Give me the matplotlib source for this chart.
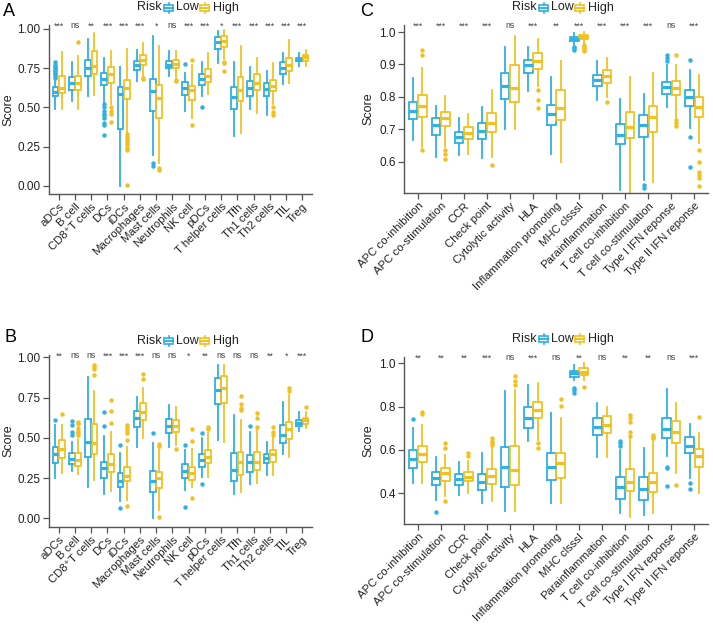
import matplotlib
matplotlib.use("Agg")
import matplotlib.pyplot as plt
from matplotlib.patches import Rectangle

plt.rcParams['font.family'] = ['Liberation Sans', 'DejaVu Sans']

BLUE = '#2fb1e6'
YELLOW = '#f3c11f'

# ---- panel A : immune cells (set 1) ----
a_cells = ['aDCs', 'B cell', 'CD8⁺T cells', 'DCs', 'iDCs', 'Macrophages', 'Mast cells',
           'Neutrophils', 'NK cell', 'pDCs', 'T helper cells', 'Tfh', 'Th1 cells',
           'Th2 cells', 'TIL', 'Treg']
a_sig = ['***', 'ns', '**', '***', '***', '***', '*', 'ns', '***', '***', '*', '***',
         '***', '***', '***', '***']
# (whisker low, q1, median, q3, whisker high)
a_low = [(0.49, 0.57, 0.60, 0.63, 0.67), (0.54, 0.61, 0.655, 0.695, 0.79),
         (0.57, 0.70, 0.75, 0.80, 0.935), (0.53, 0.64, 0.68, 0.72, 0.815),
         (0.00, 0.36, 0.585, 0.63, 0.755), (0.67, 0.74, 0.768, 0.794, 0.864),
         (0.20, 0.48, 0.605, 0.68, 0.957), (0.70, 0.75, 0.772, 0.794, 0.857),
         (0.48, 0.58, 0.623, 0.66, 0.72), (0.57, 0.645, 0.68, 0.71, 0.79),
         (0.783, 0.872, 0.915, 0.95, 0.985), (0.32, 0.49, 0.566, 0.63, 0.79),
         (0.49, 0.575, 0.623, 0.666, 0.755), (0.453, 0.57, 0.617, 0.655, 0.73),
         (0.65, 0.715, 0.75, 0.787, 0.847), (0.762, 0.794, 0.804, 0.815, 0.845)]
a_high = [(0.49, 0.595, 0.623, 0.70, 0.85), (0.49, 0.613, 0.655, 0.70, 0.825),
          (0.58, 0.715, 0.766, 0.857, 0.975), (0.52, 0.655, 0.715, 0.755, 0.857),
          (0.34, 0.553, 0.623, 0.677, 0.875), (0.70, 0.768, 0.804, 0.836, 0.91),
          (0.145, 0.432, 0.56, 0.645, 0.894), (0.69, 0.75, 0.777, 0.804, 0.857),
          (0.435, 0.549, 0.61, 0.638, 0.77), (0.587, 0.66, 0.70, 0.745, 0.847),
          (0.81, 0.885, 0.921, 0.953, 0.99), (0.34, 0.538, 0.61, 0.695, 0.89),
          (0.464, 0.61, 0.655, 0.71, 0.815), (0.52, 0.602, 0.638, 0.677, 0.78),
          (0.655, 0.734, 0.768, 0.815, 0.93), (0.766, 0.798, 0.82, 0.836, 0.868)]
a_low_out = [[0.69, 0.70, 0.71, 0.72, 0.73, 0.74, 0.75, 0.76, 0.77, 0.79], [], [],
             [0.52, 0.50, 0.48, 0.46, 0.45, 0.43, 0.40, 0.39, 0.325], [], [],
             [0.145, 0.125], [], [0.775], [0.50], [], [], [], [], [], []]
a_high_out = [[], [0.915], [], [0.50, 0.48, 0.46, 0.41],
              [0.33, 0.31, 0.30, 0.29, 0.28, 0.27, 0.26, 0.24, 0.23, 0.005],
              [0.69, 0.68], [0.113, 0.10], [0.677, 0.666], [0.39, 0.80], [],
              [0.79, 0.78, 0.73], [], [], [0.50, 0.47, 0.455], [], []]

# ---- panel B : immune cells (set 2) ----
b_cells = a_cells
b_sig = ['**', 'ns', 'ns', '***', '***', '***', 'ns', 'ns', '*', '**', 'ns', 'ns',
         'ns', '**', '*', '***']
b_low = [(0.253, 0.342, 0.40, 0.445, 0.58), (0.294, 0.337, 0.369, 0.408, 0.476),
         (0.197, 0.383, 0.472, 0.617, 0.876), (0.149, 0.248, 0.31, 0.352, 0.51),
         (0.108, 0.197, 0.232, 0.28, 0.404), (0.44, 0.57, 0.62, 0.667, 0.756),
         (0.0, 0.166, 0.232, 0.294, 0.47), (0.445, 0.528, 0.574, 0.617, 0.704),
         (0.176, 0.253, 0.294, 0.335, 0.424), (0.259, 0.32, 0.362, 0.398, 0.497),
         (0.487, 0.708, 0.797, 0.87, 0.952), (0.149, 0.232, 0.30, 0.404, 0.642),
         (0.21, 0.29, 0.348, 0.393, 0.534), (0.269, 0.342, 0.373, 0.398, 0.472),
         (0.398, 0.466, 0.518, 0.58, 0.725), (0.542, 0.576, 0.594, 0.61, 0.66)]
b_high = [(0.28, 0.373, 0.43, 0.487, 0.58), (0.273, 0.327, 0.362, 0.404, 0.49),
          (0.238, 0.397, 0.466, 0.584, 0.79), (0.17, 0.29, 0.335, 0.398, 0.538),
          (0.114, 0.232, 0.265, 0.32, 0.445), (0.50, 0.61, 0.663, 0.714, 0.807),
          (0.052, 0.186, 0.248, 0.286, 0.43), (0.455, 0.534, 0.576, 0.61, 0.694),
          (0.197, 0.238, 0.28, 0.32, 0.43), (0.259, 0.342, 0.383, 0.425, 0.53),
          (0.476, 0.714, 0.812, 0.886, 0.952), (0.166, 0.27, 0.348, 0.414, 0.61),
          (0.217, 0.30, 0.352, 0.41, 0.55), (0.269, 0.352, 0.398, 0.425, 0.50),
          (0.383, 0.49, 0.553, 0.60, 0.766), (0.559, 0.586, 0.609, 0.625, 0.66)]
b_low_out = [[0.61], [0.605, 0.58, 0.535, 0.518], [], [0.574, 0.658], [0.455, 0.062], [],
             [0.528], [], [0.455, 0.072], [0.528, 0.21], [], [], [0.576], [], [], []]
b_high_out = [[0.648], [0.596, 0.585, 0.56, 0.545, 0.53, 0.515], [0.952, 0.94, 0.93, 0.89],
              [0.735, 0.667, 0.59], [0.58, 0.565, 0.55, 0.53, 0.487, 0.079], [0.894, 0.865],
              [0.46, 0.45, 0.01], [0.43], [0.555, 0.48, 0.124], [0.569, 0.555], [],
              [0.76, 0.708, 0.687, 0.673], [0.652, 0.621, 0.569], [0.569, 0.534, 0.52],
              [0.807, 0.79], [0.694]]

# ---- panel C : immune functions (set 1) ----
c_funcs = ['APC co-inhibition', 'APC co-stimulation', 'CCR', 'Check point',
           'Cytolytic activity', 'HLA', 'Inflammation promoting', 'MHC clsssI',
           'Parainflammation', 'T cell co-inhibition', 'T cell co-stimulation',
           'Type I IFN reponse', 'Type II IFN reponse']
c_sig = ['***', '***', '***', '***', 'ns', '***', '**', '***', '***', '***', '***', 'ns', '***']
c_low = [(0.667, 0.731, 0.756, 0.785, 0.857), (0.615, 0.682, 0.713, 0.734, 0.772),
         (0.62, 0.658, 0.675, 0.692, 0.734), (0.613, 0.669, 0.696, 0.72, 0.768),
         (0.70, 0.795, 0.833, 0.875, 0.953), (0.818, 0.875, 0.898, 0.915, 0.953),
         (0.625, 0.713, 0.747, 0.775, 0.862), (0.96, 0.973, 0.978, 0.984, 0.996),
         (0.792, 0.833, 0.852, 0.867, 0.91), (0.513, 0.654, 0.684, 0.716, 0.795),
         (0.543, 0.675, 0.712, 0.744, 0.809), (0.77, 0.81, 0.831, 0.847, 0.898),
         (0.705, 0.772, 0.80, 0.821, 0.882)]
c_high = [(0.646, 0.737, 0.772, 0.806, 0.888), (0.646, 0.71, 0.734, 0.754, 0.803),
          (0.624, 0.669, 0.69, 0.708, 0.747), (0.615, 0.693, 0.72, 0.749, 0.82),
          (0.70, 0.785, 0.829, 0.898, 0.988), (0.833, 0.885, 0.91, 0.934, 0.98),
          (0.60, 0.728, 0.765, 0.821, 0.91), (0.965, 0.977, 0.986, 0.992, 1.0),
          (0.80, 0.842, 0.864, 0.883, 0.919), (0.507, 0.672, 0.708, 0.754, 0.86),
          (0.538, 0.693, 0.737, 0.772, 0.875), (0.735, 0.806, 0.826, 0.85, 0.898),
          (0.657, 0.737, 0.768, 0.80, 0.867)]
c_low_out = [[], [], [], [], [], [], [], [0.955, 0.95, 0.946], [], [], [0.528, 0.518],
             [0.929, 0.92, 0.91], [0.914, 0.675, 0.585]]
c_high_out = [[0.946, 0.929, 0.636], [0.635, 0.625, 0.61], [], [0.59], [], [0.82, 0.79, 0.765],
              [], [0.96, 0.955, 0.95, 0.945, 0.94], [0.785], [], [], [0.929, 0.728, 0.72, 0.71],
              [0.636, 0.60, 0.57, 0.56, 0.55, 0.525]]

# ---- panel D : immune functions (set 2) ----
d_funcs = c_funcs
d_sig = ['**', '**', '**', '***', 'ns', '***', 'ns', '**', 'ns', '**', '**', 'ns', '***']
d_low = [(0.449, 0.515, 0.557, 0.60, 0.70), (0.369, 0.438, 0.469, 0.50, 0.569),
         (0.392, 0.438, 0.465, 0.489, 0.546), (0.357, 0.415, 0.451, 0.489, 0.588),
         (0.32, 0.43, 0.523, 0.615, 0.874), (0.643, 0.703, 0.746, 0.80, 0.90),
         (0.354, 0.462, 0.523, 0.588, 0.77), (0.923, 0.938, 0.954, 0.966, 0.992),
         (0.566, 0.669, 0.708, 0.746, 0.818), (0.311, 0.372, 0.431, 0.474, 0.60),
         (0.30, 0.369, 0.418, 0.474, 0.608), (0.572, 0.654, 0.697, 0.746, 0.88),
         (0.47, 0.585, 0.618, 0.658, 0.72)]
d_high = [(0.446, 0.546, 0.582, 0.618, 0.715), (0.385, 0.457, 0.492, 0.515, 0.577),
          (0.40, 0.458, 0.477, 0.50, 0.55), (0.366, 0.443, 0.48, 0.51, 0.61),
          (0.32, 0.438, 0.505, 0.62, 0.877), (0.646, 0.746, 0.785, 0.82, 0.908),
          (0.357, 0.472, 0.538, 0.588, 0.746), (0.923, 0.945, 0.962, 0.977, 1.0),
          (0.569, 0.677, 0.715, 0.757, 0.80), (0.292, 0.412, 0.454, 0.51, 0.65),
          (0.308, 0.408, 0.451, 0.495, 0.64), (0.495, 0.631, 0.685, 0.734, 0.818),
          (0.403, 0.52, 0.572, 0.603, 0.677)]
d_low_out = [[0.742], [0.315], [], [], [], [], [], [0.885, 0.877, 0.865], [],
             [0.643, 0.634, 0.618], [], [0.523, 0.515, 0.434], [0.449, 0.418]]
d_high_out = [[0.777, 0.765], [0.366, 0.634, 0.608], [0.588, 0.572], [0.654, 0.64, 0.63, 0.623],
              [0.942, 0.92, 0.90], [0.63, 0.61], [0.834, 0.803], [0.889], [],
              [0.762, 0.746, 0.731, 0.685, 0.662], [0.669, 0.66, 0.654], [0.438], [0.754]]


W, H = 713, 627
fig = plt.figure(figsize=(W / 100, H / 100), dpi=100)


def px_axes(left, top, right, bottom):
    return fig.add_axes([left / W, 1 - bottom / H, (right - left) / W, (bottom - top) / H])


def make_stats(rows, outs):
    return [dict(whislo=r[0], q1=r[1], med=r[2], q3=r[3], whishi=r[4], fliers=o)
            for r, o in zip(rows, outs)]


def panel(ax, names, sig, low, high, low_out, high_out, ylim, yticks, ylabels):
    n = len(names)
    for rows, outs, col, off in [(low, low_out, BLUE, -0.2), (high, high_out, YELLOW, 0.2)]:
        pos = [i + 1 + off for i in range(n)]
        ax.bxp(make_stats(rows, outs), positions=pos, widths=0.36, showcaps=False,
               boxprops=dict(color=col, lw=1.3),
               whiskerprops=dict(color=col, lw=1.3),
               medianprops=dict(color=col, lw=2.3),
               flierprops=dict(marker='o', markerfacecolor=col, markeredgecolor='none',
                               markersize=3.2))
    ax.set_xlim(0.4, n + 0.6)
    ax.set_ylim(*ylim)
    ax.set_yticks(yticks)
    ax.set_yticklabels(ylabels)
    ax.set_xticks(range(1, n + 1))
    ax.set_xticklabels(names, rotation=45, ha='right', va='top', rotation_mode='anchor')
    for s in ['top', 'right']:
        ax.spines[s].set_visible(False)
    for s in ['left', 'bottom']:
        ax.spines[s].set_color('#555555')
        ax.spines[s].set_linewidth(1.0)
    ax.tick_params(length=4, width=0.9, color='#555555', labelsize=8.5,
                   labelcolor='#222222', pad=2)
    ax.tick_params(axis='x', pad=1.5, labelsize=8.2)
    for i, s in enumerate(sig):
        ax.text(i + 1, 0.995, s, transform=ax.get_xaxis_transform(), ha='center',
                va='center', fontsize=6.3, color='#444444')


axA = px_axes(49, 25, 312, 194)
panel(axA, a_cells, a_sig, a_low, a_high, a_low_out, a_high_out, (-0.051, 1.025),
      [0, 0.25, 0.5, 0.75, 1.0], ['0.00', '0.25', '0.50', '0.75', '1.00'])
axB = px_axes(49, 355, 312, 527)
panel(axB, b_cells, b_sig, b_low, b_high, b_low_out, b_high_out, (-0.054, 1.014),
      [0, 0.25, 0.5, 0.75, 1.0], ['0.00', '0.25', '0.50', '0.75', '1.00'])
axC = px_axes(404, 25, 708, 193)
panel(axC, c_funcs, c_sig, c_low, c_high, c_low_out, c_high_out, (0.504, 1.0216),
      [0.6, 0.7, 0.8, 0.9, 1.0], ['0.6', '0.7', '0.8', '0.9', '1.0'])
axD = px_axes(404, 357, 708, 524)
panel(axD, d_funcs, d_sig, d_low, d_high, d_low_out, d_high_out, (0.258, 1.029),
      [0.4, 0.6, 0.8, 1.0], ['0.4', '0.6', '0.8', '1.0'])

# overlay in pixel coords for legends, panel letters and y labels
ov = fig.add_axes([0, 0, 1, 1], facecolor='none')
ov.set_xlim(0, W)
ov.set_ylim(H, 0)
ov.axis('off')


def key(x, y, col):
    ov.add_patch(Rectangle((x, y - 3), 9, 6, facecolor='white', edgecolor=col, lw=1.2))
    ov.plot([x, x + 9], [y, y], color=col, lw=1.4)
    ov.plot([x + 4.5, x + 4.5], [y - 5, y - 3], color=col, lw=1.2)
    ov.plot([x + 4.5, x + 4.5], [y + 3, y + 5], color=col, lw=1.2)


def legend(x0, y):
    ov.text(x0, y, 'Risk', fontsize=9, va='center', ha='left', color='#222222')
    key(x0 + 27, y, BLUE)
    ov.text(x0 + 39, y, 'Low', fontsize=9, va='center', ha='left', color='#222222')
    key(x0 + 63, y, YELLOW)
    ov.text(x0 + 76, y, 'High', fontsize=9, va='center', ha='left', color='#222222')


legend(137, 7.5)
legend(137, 341)
legend(512, 7.5)
legend(512, 339)

for lab, x, y in [('A', 3, 12), ('B', 4, 337), ('C', 360, 12), ('D', 360, 337)]:
    ov.text(x, y, lab, fontsize=13, va='center', ha='left', color='black')

for x, y in [(8, 110), (8, 441), (368, 109), (368, 441)]:
    ov.text(x, y, 'Score', rotation=90, fontsize=9, va='center', ha='center', color='#222222')

fig.savefig('out.png', dpi=100)
